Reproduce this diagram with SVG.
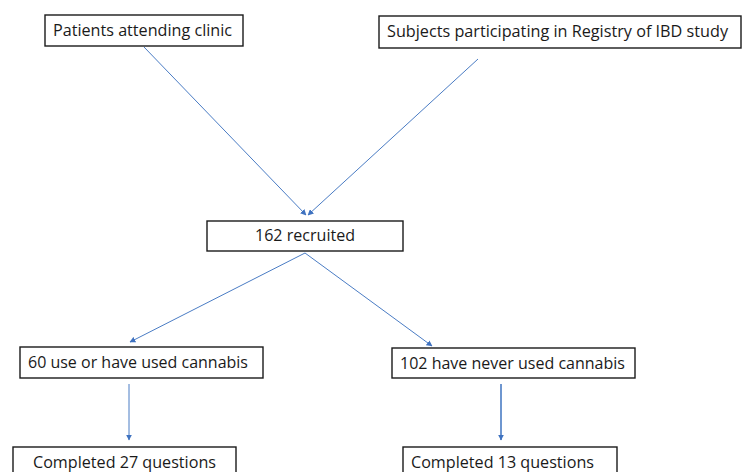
<svg xmlns="http://www.w3.org/2000/svg" width="742" height="472" viewBox="0 0 742 472">
<defs>
<style>
.box{fill:#fff;stroke:#1a1a1a;stroke-width:1.4}
.lbl{font-family:"Open Sans","Liberation Sans",Arial,sans-serif;font-size:16.5px;fill:#1a1a1a}
.con{fill:none;stroke:#4a7cc4;stroke-width:1}
.con2{fill:none;stroke:#4a7cc4;stroke-width:1.6}
</style>
<marker id="ah" viewBox="0 0 10 10" refX="9" refY="5" markerWidth="6" markerHeight="6" markerUnits="userSpaceOnUse" orient="auto">
<path d="M0,0 L10,5 L0,10 z" fill="#3f72c0"/>
</marker>
</defs>
<rect width="742" height="472" fill="#fff"/>
<g id="connectors">
<line class="con" x1="144" y1="47" x2="306" y2="215" marker-end="url(#ah)"/>
<line class="con" x1="478" y1="59" x2="308" y2="215" marker-end="url(#ah)"/>
<line class="con" x1="305" y1="253" x2="130" y2="342" marker-end="url(#ah)"/>
<line class="con" x1="305" y1="253" x2="432" y2="346" marker-end="url(#ah)"/>
<line class="con" x1="129" y1="384" x2="129" y2="440" marker-end="url(#ah)"/>
<line class="con2" x1="501" y1="384" x2="501" y2="440" marker-end="url(#ah)"/>
</g>
<g id="patients">
<rect class="box" x="45" y="15" width="198" height="31"/>
<text class="lbl" x="53" y="36" textLength="179" lengthAdjust="spacingAndGlyphs">Patients attending clinic</text>
</g>
<g id="subjects">
<rect class="box" x="379" y="16" width="362" height="32"/>
<text class="lbl" x="387" y="37" textLength="341" lengthAdjust="spacingAndGlyphs">Subjects participating in Registry of IBD study</text>
</g>
<g id="recruited">
<rect class="box" x="207" y="221" width="196" height="30"/>
<text class="lbl" x="255" y="241" textLength="100" lengthAdjust="spacingAndGlyphs">162 recruited</text>
</g>
<g id="used">
<rect class="box" x="20" y="347" width="243" height="31"/>
<text class="lbl" x="28" y="368" textLength="220" lengthAdjust="spacingAndGlyphs">60 use or have used cannabis</text>
</g>
<g id="never">
<rect class="box" x="392" y="348" width="243" height="30"/>
<text class="lbl" x="400" y="369" textLength="225" lengthAdjust="spacingAndGlyphs">102 have never used cannabis</text>
</g>
<g id="completed27">
<rect class="box" x="13" y="447" width="223" height="40"/>
<text class="lbl" x="33" y="468" textLength="183" lengthAdjust="spacingAndGlyphs">Completed 27 questions</text>
</g>
<g id="completed13">
<rect class="box" x="403" y="447" width="214" height="40"/>
<text class="lbl" x="411" y="468" textLength="183" lengthAdjust="spacingAndGlyphs">Completed 13 questions</text>
</g>
</svg>
